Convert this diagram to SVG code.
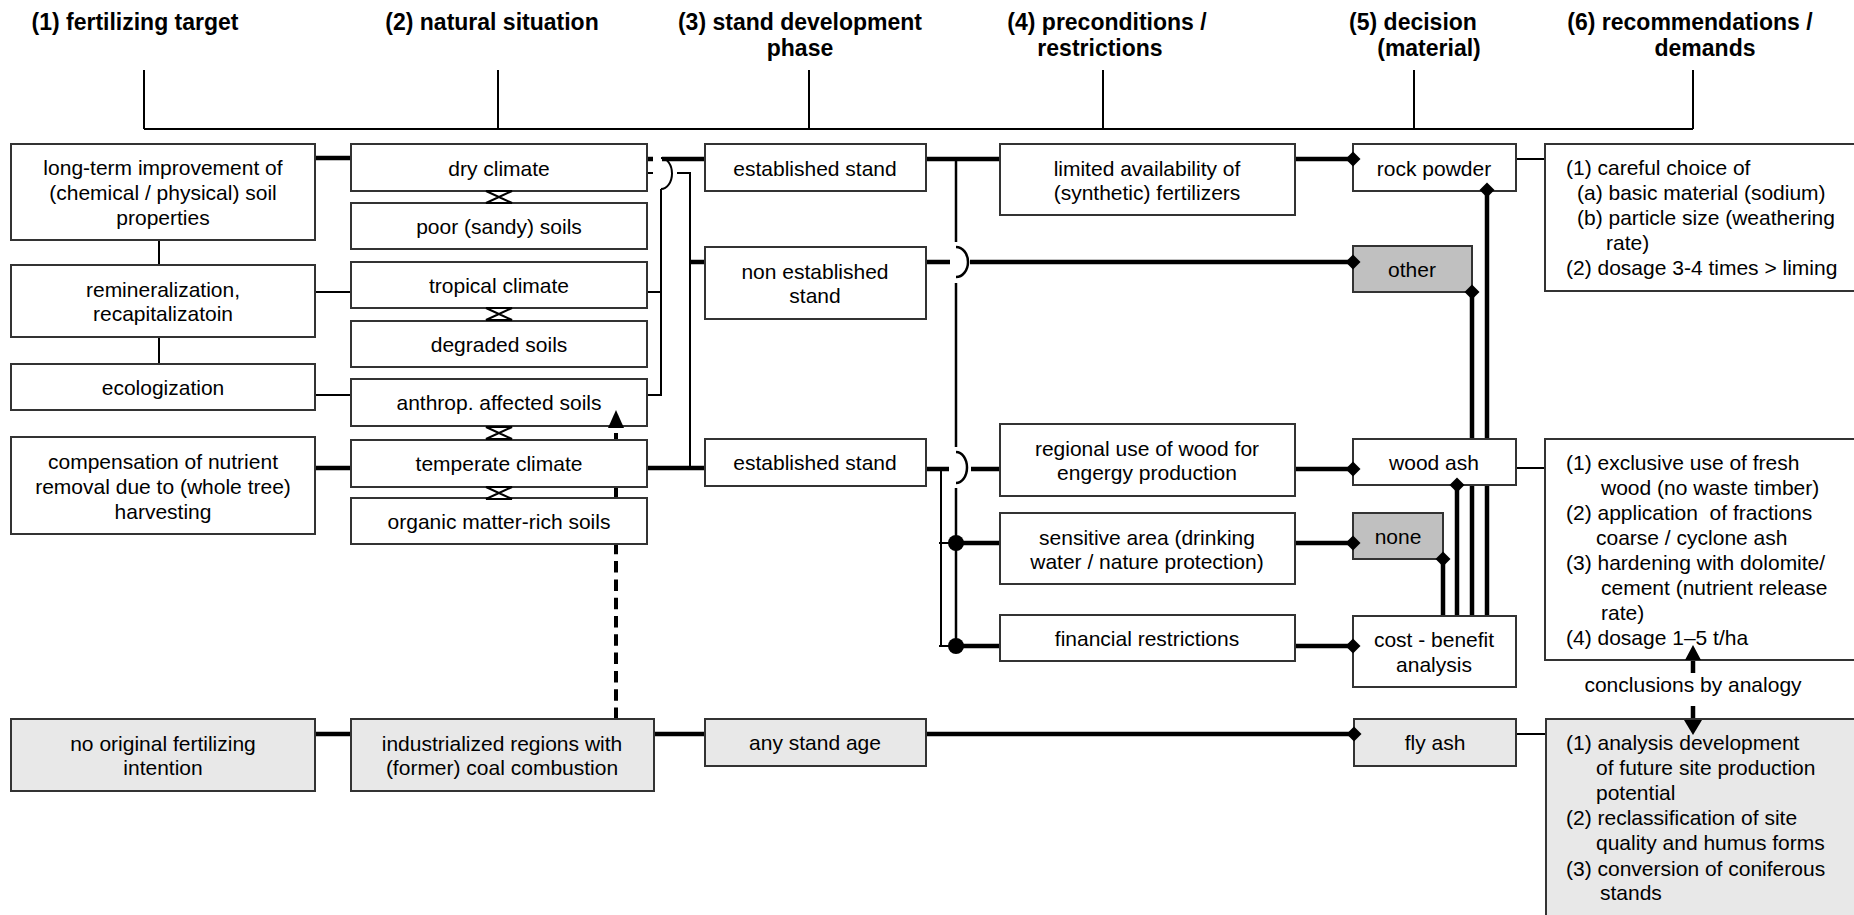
<svg xmlns="http://www.w3.org/2000/svg" xmlns:xlink="http://www.w3.org/1999/xlink" width="1854" height="915" viewBox="0 0 1854 915">
<style>
.box{fill:#fff;stroke:#333;stroke-width:2}
.lg{fill:#e8e8e8}
.dg{fill:#c0c0c0}
text{font-family:"Liberation Sans",Arial,sans-serif;font-size:21px;fill:#000;text-anchor:middle;white-space:pre}
text.l{text-anchor:start}
text.h{font-weight:bold;font-size:23px}
.thick{stroke:#000;stroke-width:4.5;fill:none}
.thin{stroke:#000;stroke-width:2;fill:none}
.med{stroke:#000;stroke-width:2.5;fill:none}
.dash{stroke:#000;stroke-width:4;fill:none;stroke-dasharray:11.5 6.8}
.hg{fill:#fff;stroke:#000;stroke-width:2}
</style>
<defs>
<path id="dia" d="M0,-7.5 L7.5,0 L0,7.5 L-7.5,0Z" fill="#000"/>
<path id="hour" d="M-13,0 H13 L-13,12 H13 Z" class="hg"/>
</defs>
<rect width="1854" height="915" fill="#fff"/>

<g id="headers">
<text class="h" x="135" y="30">(1) fertilizing target</text>
<text class="h" x="492" y="30">(2) natural situation</text>
<text class="h" x="800" y="30">(3) stand development</text>
<text class="h" x="800" y="56">phase</text>
<text class="h" x="1107" y="30">(4) preconditions /</text>
<text class="h" x="1100" y="56">restrictions</text>
<text class="h" x="1413" y="30">(5) decision</text>
<text class="h" x="1429" y="56">(material)</text>
<text class="h" x="1690" y="30">(6) recommendations /</text>
<text class="h" x="1705" y="56">demands</text>
</g>

<g id="connectors">
<path class="thin" d="M144,129 H1693 M144,70 V129 M498,70 V129 M809,70 V129 M1103,70 V129 M1414,70 V129 M1693,70 V129"/>
<path class="thin" d="M159,240 V265 M159,337 V364 M315,292 H351 M315,395 H351"/>
<path class="thick" d="M315,158 H351 M315,468 H351 M315,734 H351"/>
<path class="thick" d="M647,159 H653 M662,159 H705"/>
<path class="thin" d="M647,173 H653 M677,173 H690 V468"/>
<path class="thin" d="M647,292 H661 M647,395 H661 V189 M661,158 A11,15.5 0 0 1 661,189"/>
<path class="thick" d="M690,262 H705 M647,468 H705 M654,734 H705"/>
<path class="thick" d="M926,159 H1000 M926,262 H950 M970,262 H1354 M926,469 H949 M971,469 H1000"/>
<path class="med" d="M956,159 V242 M956,247 A12,15 0 0 1 956,277 M956,283 V447 M956,452 A11,15.5 0 0 1 956,483 M956,488 V646"/>
<path class="thin" d="M941,469 V646 M939,543 H956 M939,646 H956"/>
<path class="thick" d="M956,543 H1000 M956,646 H1000"/>
<path class="thick" d="M1295,159 H1353 M1295,469 H1353 M1295,543 H1353 M1295,646 H1353 M926,734 H1354"/>
<path class="thick" d="M1487,190 V616 M1472,292 V616 M1457,485 V616 M1443,559 V616"/>
<path class="thin" d="M1516,159 H1545 M1516,468 H1545 M1516,734 H1546"/>
<path class="dash" d="M616,719 V427"/>
<path class="thick" d="M1693,673 V658 M1693,706 V722"/>
</g>

<g id="n-longterm"><rect class="box" x="11" y="144" width="304" height="96"/>
<text x="163" y="175">long-term improvement of</text><text x="163" y="200">(chemical / physical) soil</text><text x="163" y="225">properties</text></g>
<g id="n-remin"><rect class="box" x="11" y="265" width="304" height="72"/>
<text x="163" y="297">remineralization,</text><text x="163" y="321">recapitalizatoin</text></g>
<g id="n-ecol"><rect class="box" x="11" y="364" width="304" height="46"/>
<text x="163" y="395">ecologization</text></g>
<g id="n-comp"><rect class="box" x="11" y="437" width="304" height="97"/>
<text x="163" y="469">compensation of nutrient</text><text x="163" y="494">removal due to (whole tree)</text><text x="163" y="519">harvesting</text></g>
<g id="n-noorig"><rect class="box lg" x="11" y="719" width="304" height="72"/>
<text x="163" y="751">no original fertilizing</text><text x="163" y="775">intention</text></g>

<g id="n-dry"><rect class="box" x="351" y="144" width="296" height="47"/><text x="499" y="176">dry climate</text></g>
<g id="n-poor"><rect class="box" x="351" y="203" width="296" height="46"/><text x="499" y="234">poor (sandy) soils</text></g>
<g id="n-trop"><rect class="box" x="351" y="262" width="296" height="46"/><text x="499" y="293">tropical climate</text></g>
<g id="n-degr"><rect class="box" x="351" y="321" width="296" height="46"/><text x="499" y="352">degraded soils</text></g>
<g id="n-anth"><rect class="box" x="351" y="379" width="296" height="47"/><text x="499" y="410">anthrop. affected soils</text></g>
<g id="n-temp"><rect class="box" x="351" y="440" width="296" height="47"/><text x="499" y="471">temperate climate</text></g>
<g id="n-org"><rect class="box" x="351" y="498" width="296" height="46"/><text x="499" y="529">organic matter-rich soils</text></g>
<g id="n-ind"><rect class="box lg" x="351" y="719" width="303" height="72"/>
<text x="502" y="751">industrialized regions with</text><text x="502" y="775">(former) coal combustion</text></g>
<g id="bowties">
<use xlink:href="#hour" x="499" y="191"/>
<use xlink:href="#hour" x="499" y="308"/>
<use xlink:href="#hour" x="499" y="427"/>
<use xlink:href="#hour" x="499" y="487"/>
</g>

<g id="n-est1"><rect class="box" x="705" y="144" width="221" height="47"/><text x="815" y="176">established stand</text></g>
<g id="n-nonest"><rect class="box" x="705" y="247" width="221" height="72"/>
<text x="815" y="279">non established</text><text x="815" y="303">stand</text></g>
<g id="n-est2"><rect class="box" x="705" y="439" width="221" height="47"/><text x="815" y="470">established stand</text></g>
<g id="n-any"><rect class="box lg" x="705" y="719" width="221" height="47"/><text x="815" y="750">any stand age</text></g>

<g id="n-limited"><rect class="box" x="1000" y="144" width="295" height="71"/>
<text x="1147" y="176">limited availability of</text><text x="1147" y="200">(synthetic) fertilizers</text></g>
<g id="n-regional"><rect class="box" x="1000" y="424" width="295" height="72"/>
<text x="1147" y="456">regional use of wood for</text><text x="1147" y="480">engergy production</text></g>
<g id="n-sensitive"><rect class="box" x="1000" y="513" width="295" height="71"/>
<text x="1147" y="545">sensitive area (drinking</text><text x="1147" y="569">water / nature protection)</text></g>
<g id="n-financial"><rect class="box" x="1000" y="615" width="295" height="46"/><text x="1147" y="646">financial restrictions</text></g>

<g id="n-rock"><rect class="box" x="1353" y="144" width="163" height="47"/><text x="1434" y="176">rock powder</text></g>
<g id="n-other"><rect class="box dg" x="1353" y="246" width="119" height="46"/><text x="1412" y="277">other</text></g>
<g id="n-wood"><rect class="box" x="1353" y="439" width="163" height="46"/><text x="1434" y="470">wood ash</text></g>
<g id="n-none"><rect class="box dg" x="1353" y="513" width="90" height="46"/><text x="1398" y="544">none</text></g>
<g id="n-cost"><rect class="box" x="1353" y="616" width="163" height="71"/>
<text x="1434" y="647">cost - benefit</text><text x="1434" y="672">analysis</text></g>
<g id="n-fly"><rect class="box lg" x="1354" y="719" width="162" height="47"/><text x="1435" y="750">fly ash</text></g>

<g id="n-rec1"><rect class="box" x="1545" y="144" width="320" height="147"/>
<text class="l" x="1566" y="175">(1) careful choice of</text>
<text class="l" x="1577" y="200">(a) basic material (sodium)</text>
<text class="l" x="1577" y="225">(b) particle size (weathering</text>
<text class="l" x="1606" y="250">rate)</text>
<text class="l" x="1566" y="275">(2) dosage 3-4 times &gt; liming</text></g>
<g id="n-rec2"><rect class="box" x="1545" y="439" width="320" height="221"/>
<text class="l" x="1566" y="470">(1) exclusive use of fresh</text>
<text class="l" x="1601" y="495">wood (no waste timber)</text>
<text class="l" x="1566" y="520" xml:space="preserve">(2) application  of fractions</text>
<text class="l" x="1596" y="545">coarse / cyclone ash</text>
<text class="l" x="1566" y="570">(3) hardening with dolomite/</text>
<text class="l" x="1601" y="595">cement (nutrient release</text>
<text class="l" x="1601" y="620">rate)</text>
<text class="l" x="1566" y="645">(4) dosage 1–5 t/ha</text></g>
<g id="n-rec3"><rect class="box lg" x="1546" y="719" width="320" height="210"/>
<text class="l" x="1566" y="750">(1) analysis development</text>
<text class="l" x="1596" y="775">of future site production</text>
<text class="l" x="1596" y="800">potential</text>
<text class="l" x="1566" y="825">(2) reclassification of site</text>
<text class="l" x="1596" y="850">quality and humus forms</text>
<text class="l" x="1566" y="876">(3) conversion of coniferous</text>
<text class="l" x="1600" y="900">stands</text></g>
<g id="label-analogy"><text x="1693" y="692">conclusions by analogy</text></g>

<g id="connector-ends">
<use xlink:href="#dia" x="1353" y="159"/>
<use xlink:href="#dia" x="1353" y="262"/>
<use xlink:href="#dia" x="1353" y="469"/>
<use xlink:href="#dia" x="1353" y="543"/>
<use xlink:href="#dia" x="1353" y="646"/>
<use xlink:href="#dia" x="1354" y="734"/>
<use xlink:href="#dia" x="1487" y="190"/>
<use xlink:href="#dia" x="1472" y="292"/>
<use xlink:href="#dia" x="1457" y="485"/>
<use xlink:href="#dia" x="1443" y="559"/>
<circle cx="956" cy="543" r="8" fill="#000"/>
<circle cx="956" cy="646" r="8" fill="#000"/>
<path d="M616,410 L624,428 L608,428 Z" fill="#000"/>
<path d="M1693,645 L1701,660 L1685,660 Z" fill="#000"/>
<path d="M1693,735 L1702,720 L1684,720 Z" fill="#000"/>
</g>
</svg>
